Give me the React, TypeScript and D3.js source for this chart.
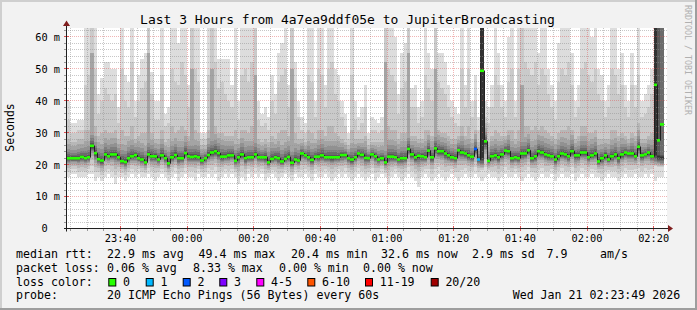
import React from "react";
import * as d3 from "d3";

// ---------- data ----------
const titleText = "Last 3 Hours from 4a7ea9ddf05e to JupiterBroadcasting";
const yAxisTitle = "Seconds";
const watermark = "RRDTOOL / TOBI OETIKER";

// median RTT per 60 s step (ms), 23:24 .. 02:23
const medianMs = [
  22.0, 22.0, 22.0, 22.0, 22.4, 22.0, 22.3, 25.9, 23.6, 21.7, 21.3, 23.2, 22.6, 23.2, 23.2, 22.3, 21.1, 20.8, 22.0, 22.6,
  23.0, 22.0, 21.6, 20.7, 23.2, 22.6, 22.6, 21.6, 22.9, 22.0, 20.4, 22.3, 23.0, 22.0, 22.0, 23.6, 22.6, 22.4, 22.6, 22.3,
  21.3, 22.0, 23.0, 23.8, 24.2, 23.6, 22.5, 22.5, 22.9, 22.9, 21.2, 22.3, 23.2, 22.0, 22.3, 22.3, 23.2, 22.3, 22.3, 22.3,
  20.7, 21.8, 22.3, 22.0, 21.0, 21.8, 22.4, 20.6, 21.6, 21.3, 23.5, 22.9, 22.3, 21.5, 22.5, 22.5, 22.9, 22.3, 22.3, 22.3,
  22.3, 22.3, 23.0, 23.0, 22.0, 21.6, 22.3, 23.5, 23.1, 22.1, 22.0, 23.2, 22.6, 21.6, 22.0, 20.7, 22.5, 22.5, 22.3, 21.6,
  22.0, 22.0, 24.9, 23.2, 22.3, 22.8, 22.6, 22.3, 24.4, 22.3, 25.1, 24.2, 24.2, 23.5, 22.9, 22.3, 22.0, 24.5, 23.8, 23.5,
  22.9, 22.5, 24.9, 21.6, 49.4, 27.3, 21.2, 22.6, 22.9, 22.3, 23.2, 24.4, 24.2, 22.0, 22.3, 22.0, 23.5, 23.5, 24.5, 22.0,
  22.6, 24.2, 23.8, 23.2, 22.9, 22.6, 21.6, 22.6, 23.5, 23.2, 22.6, 24.2, 22.9, 22.9, 23.8, 23.8, 22.3, 22.9, 23.5, 21.0,
  22.0, 22.9, 21.6, 22.6, 23.2, 22.0, 23.2, 23.8, 23.5, 23.5, 22.6, 25.6, 22.9, 23.2, 23.8, 22.6, 45.0, 27.6, 32.6,
];

// highest ping per step (ms)
const smokeHigh = [
  40, 33, 33, 34, 34, 63, 63, 63, 63, 42, 47, 52, 52, 50, 50, 38, 63, 48, 46, 63,
  40, 48, 53, 55, 63, 49, 40, 40, 63, 36, 38, 63, 63, 58, 63, 63, 45, 63, 63, 63,
  30, 30, 63, 63, 63, 53, 53, 53, 53, 45, 63, 40, 63, 63, 63, 63, 63, 40, 36, 38,
  35, 48, 42, 55, 58, 63, 45, 63, 52, 40, 35, 33, 63, 63, 40, 63, 63, 45, 63, 63,
  50, 48, 40, 36, 30, 63, 40, 35, 38, 45, 30, 35, 34, 33, 35, 63, 63, 63, 60, 42,
  55, 58, 63, 44, 45, 38, 40, 63, 55, 50, 63, 55, 55, 52, 45, 40, 38, 36, 63, 45,
  63, 40, 48, 35, 63, 40, 38, 45, 63, 55, 45, 40, 60, 63, 40, 63, 63, 63, 63, 63,
  63, 55, 63, 63, 50, 45, 40, 58, 63, 63, 63, 55, 40, 45, 63, 63, 63, 60, 63, 50,
  48, 40, 45, 63, 63, 50, 55, 45, 40, 55, 45, 63, 40, 42, 45, 50, 63, 63, 63,
];

// 19th of 20 pings per step (ms)
const smokeUpper2 = [
  34, 30, 30, 31, 31, 45, 48, 63, 50, 36, 40, 44, 42, 40, 42, 33, 50, 40, 38, 52,
  35, 40, 44, 46, 63, 42, 34, 34, 48, 32, 33, 50, 46, 45, 52, 48, 38, 63, 50, 46,
  28, 28, 48, 63, 52, 44, 46, 42, 40, 38, 50, 34, 48, 50, 46, 52, 63, 34, 32, 33,
  31, 40, 36, 46, 48, 50, 38, 63, 44, 35, 31, 30, 48, 46, 35, 50, 48, 38, 50, 52,
  42, 40, 35, 32, 28, 48, 34, 31, 33, 38, 28, 31, 31, 30, 31, 63, 50, 48, 46, 36,
  44, 46, 63, 38, 38, 33, 35, 48, 44, 40, 63, 46, 44, 42, 38, 35, 33, 32, 50, 38,
  50, 35, 40, 31, 63, 35, 33, 38, 48, 45, 38, 35, 46, 50, 35, 50, 63, 52, 50, 48,
  52, 45, 50, 48, 42, 38, 34, 46, 50, 48, 52, 45, 35, 38, 50, 52, 48, 46, 50, 42,
  40, 35, 38, 50, 48, 42, 45, 38, 35, 45, 38, 48, 35, 36, 38, 42, 63, 63, 63,
];

// 18th of 20 pings per step (ms)
const smokeUpper3 = [
  28, 27, 27, 28, 28, 31, 31, 55, 32, 29, 30, 31, 30, 30, 31, 28, 31, 29, 29, 32,
  28, 29, 30, 30, 55, 30, 28, 28, 31, 27, 28, 32, 30, 31, 32, 31, 29, 50, 31, 30,
  26, 26, 31, 50, 32, 30, 30, 29, 29, 29, 31, 28, 31, 31, 30, 32, 48, 28, 27, 28,
  27, 29, 28, 30, 31, 31, 29, 50, 30, 28, 28, 27, 31, 30, 28, 31, 31, 29, 32, 32,
  30, 29, 28, 27, 26, 31, 28, 28, 28, 29, 26, 27, 27, 27, 27, 52, 32, 31, 31, 28,
  30, 30, 55, 29, 29, 28, 28, 31, 31, 29, 50, 31, 30, 30, 29, 28, 28, 29, 32, 29,
  32, 28, 31, 27, 63, 33, 27, 29, 31, 30, 29, 29, 31, 31, 28, 31, 45, 32, 32, 31,
  32, 31, 32, 31, 30, 29, 28, 30, 31, 31, 32, 31, 28, 29, 32, 32, 30, 30, 31, 28,
  28, 28, 28, 31, 31, 29, 30, 29, 28, 30, 29, 33, 28, 28, 29, 30, 63, 63, 63,
];

// lowest ping per step (ms)
const smokeLow = [
  16, 17, 17, 16, 16, 16, 17, 17, 15, 16, 15, 16, 17, 16, 14, 16, 16, 15, 16, 17,
  16, 17, 16, 16, 17, 16, 15, 16, 17, 16, 15, 16, 17, 15, 16, 17, 16, 16, 15, 17,
  16, 16, 17, 16, 17, 15, 16, 17, 16, 17, 16, 14, 16, 15, 17, 16, 17, 16, 17, 15,
  16, 17, 16, 15, 16, 17, 16, 15, 17, 16, 16, 17, 16, 15, 17, 16, 16, 17, 16, 15,
  16, 17, 16, 17, 16, 15, 16, 17, 16, 15, 16, 17, 15, 16, 17, 16, 14, 16, 17, 16,
  15, 16, 17, 16, 15, 13, 16, 17, 16, 15, 16, 17, 16, 15, 16, 17, 16, 15, 16, 17,
  16, 16, 17, 16, 15, 16, 17, 16, 16, 15, 16, 17, 16, 16, 17, 16, 15, 16, 17, 16,
  15, 16, 17, 16, 16, 17, 15, 16, 17, 16, 16, 17, 15, 16, 17, 16, 16, 17, 16, 16,
  15, 16, 17, 16, 16, 15, 16, 17, 16, 16, 17, 16, 16, 17, 16, 17, 15, 16, 16,
];

// steps whose pings split into a low cluster and timeouts at the top:
// [step, low cluster value (ms), number of pings in the low cluster]
const splitSteps: [number, number, number][] = [[124, 22, 10], [176, 23, 10], [177, 23, 12], [178, 23, 13]];

// steps with packet loss: [step index, loss class]
const lossEvents: [number, number][] = [[122, 2], [123, 1]];

const lossLabels = ["0", "1", "2", "3", "4-5", "6-10", "11-19", "20/20"];
const lossColors = ["#26ff00", "#00b8ff", "#0059ff", "#7e00ff", "#ff00ff", "#ff5500", "#ff0000", "#a00000"];
const smokeShades = ["#dddddd", "#cacaca", "#b7b7b7", "#a4a4a4", "#919191", "#7e7e7e", "#6b6b6b", "#585858", "#454545", "#323232"];

const xTickLabels = ["23:40", "00:00", "00:20", "00:40", "01:00", "01:20", "01:40", "02:00", "02:20"];
const yTickValues = [0, 10, 20, 30, 40, 50, 60];
const yTickLabels = ["0", "10 m", "20 m", "30 m", "40 m", "50 m", "60 m"];

const rttRow = ["median rtt:", "22.9 ms avg", "49.4 ms max", "20.4 ms min", "32.6 ms now", "2.9 ms sd", "7.9", "am/s"];
const lossRow = ["packet loss:", "0.06 % avg", "8.33 % max", "0.00 % min", "0.00 % now"];
const lossColorLabel = "loss color:";
const probeRow = ["probe:", "20 ICMP Echo Pings (56 Bytes) every 60s", "Wed Jan 21 02:23:49 2026"];

// ---------- layout ----------
const W = 697;
const H = 310;
const PL = 67, PR = 667, PT = 28, PB = 228.5;
const Y_MAX = 62.8;
const MONO = "'DejaVu Sans Mono', monospace";
const LEG_FS = 11.6;
const t0 = new Date(2026, 0, 20, 23, 24);
const t1 = new Date(2026, 0, 21, 2, 24);

const rttX = [16, 107, 198.5, 291, 381, 472, 546.5, 600];
const lossX = [16, 107, 193, 279, 363];
const lossBoxX = [108.3, 145.7, 182.7, 219.3, 256.3, 307.3, 365, 430.7];
const probeX = [16, 107, 512.7];

const splitMap = new Map(splitSteps.map((s) => [s[0], s] as const));

// order the 20 ping values of a step from its stored quantiles
function stepPings(i: number): number[] {
  const lo = smokeLow[i], med = medianMs[i], u3 = smokeUpper3[i], u2 = smokeUpper2[i], hi = smokeHigh[i];
  const split = splitMap.get(i);
  if (split) {
    const [, cluster, k] = split;
    const p: number[] = [];
    for (let j = 0; j < 20; j++) {
      if (j === 0) p.push(lo);
      else if (j < k) p.push(cluster - 4 + (4 * j) / (k - 1));
      else p.push(hi);
    }
    return p;
  }
  const below = [0, 0.3, 0.5, 0.65, 0.75, 0.8, 0.85, 0.9, 0.94, 0.98].map((f) => lo + f * (med - lo));
  const c = Math.min(u3, med + 7);
  const above = [0.02, 0.05, 0.12, 0.22, 0.34, 0.5].map((f) => med + f * (c - med));
  const p17 = u3 >= 45 ? u3 : med + 0.75 * (c - med);
  const p = [...below, ...above, p17, u3, u2, hi];
  return p.sort((a, b) => a - b);
}

export default function App() {
  const x = d3.scaleTime().domain([t0, t1]).range([PL, PR]);
  const y = d3.scaleLinear().domain([0, Y_MAX]).range([PB, PT]).clamp(true);
  const n = medianMs.length;
  const stepT = (i: number) => d3.timeMinute.offset(t0, i);

  const smokeRects: JSX.Element[] = [];
  const medRects: JSX.Element[] = [];
  const lossMap = new Map(lossEvents);
  for (let i = 0; i < n; i++) {
    const xa = Math.round(x(stepT(i)));
    const xb = Math.round(x(stepT(i + 1)));
    const p = stepPings(i);
    for (let k = 0; k < 10; k++) {
      const ya = Math.round(y(p[19 - k]));
      const yb = Math.round(y(p[k]));
      if (yb - ya <= 0) continue;
      smokeRects.push(
        <rect key={`s${i}-${k}`} x={xa} y={ya} width={xb - xa} height={yb - ya} fill={smokeShades[k]} />
      );
    }
    const ym = y(medianMs[i]);
    medRects.push(
      <rect key={`m${i}`} x={xa} y={ym - 1.3} width={xb - xa} height={2.6} fill={lossColors[lossMap.get(i) ?? 0]} />
    );
  }

  const medPts: [Date, number][] = medianMs.map((v, i) => [stepT(i), v]);
  medPts.push([stepT(n), medianMs[n - 1]]);
  const medLine = d3
    .line<[Date, number]>()
    .x((d) => Math.round(x(d[0])) + 0.5)
    .y((d) => y(d[1]))
    .curve(d3.curveStepAfter)(medPts) as string;

  const px = (v: number) => Math.round(v - 0.5); // pixel column / row index
  const majorT = x.ticks(d3.timeMinute.every(20) as any);
  const minorT = x.ticks(d3.timeMinute.every(5) as any).filter((t) => t.getMinutes() % 20 !== 0);
  const minorY = d3.range(2, Y_MAX, 2).filter((v) => v % 10 !== 0);
  const majorY = yTickValues.filter((v) => v > 0);

  const gridMinor = "rgba(143,143,143,0.5)";
  const gridMajor = "rgba(222,79,79,0.42)";
  const cwAxis = 10.3 * 0.602;
  const gTop = PT;
  const gBot = Math.floor(PB);

  return (
    <svg width={W} height={H} viewBox={`0 0 ${W} ${H}`} style={{ display: "block", position: "absolute", left: 0, top: 0 }}>
      <style>{`body{margin:0}`}</style>
      <defs>
        <pattern id="hMinor" width={2} height={1} patternUnits="userSpaceOnUse">
          <rect width={1} height={1} fill={gridMinor} />
        </pattern>
        <pattern id="vMinor" width={1} height={2} patternUnits="userSpaceOnUse">
          <rect width={1} height={1} fill={gridMinor} />
        </pattern>
        <pattern id="hMajor" width={2} height={1} patternUnits="userSpaceOnUse">
          <rect width={1} height={1} fill={gridMajor} />
        </pattern>
        <pattern id="vMajor" width={1} height={2} patternUnits="userSpaceOnUse">
          <rect width={1} height={1} fill={gridMajor} />
        </pattern>
      </defs>
      <rect x={0} y={0} width={W} height={H} fill="#f2f2f2" />
      {/* 3D frame */}
      <rect x={0} y={0} width={W} height={2} fill="#cfcfcf" />
      <rect x={0} y={0} width={2} height={H} fill="#cfcfcf" />
      <rect x={0} y={H - 2} width={W} height={2} fill="#9e9e9e" />
      <rect x={W - 2} y={0} width={2} height={H} fill="#9e9e9e" />

      {/* canvas */}
      <rect x={PL} y={PT} width={PR - PL} height={gBot - PT} fill="#ffffff" />

      <g shapeRendering="crispEdges">{smokeRects}</g>

      {/* grid (1 on / 1 off dots) */}
      <g shapeRendering="crispEdges">
        {minorY.map((v) => (
          <rect key={`gy${v}`} x={PL} y={px(y(v))} width={PR - PL} height={1} fill="url(#hMinor)" />
        ))}
        {minorT.map((t) => (
          <rect key={`gx${+t}`} x={px(x(t))} y={gTop} width={1} height={gBot - gTop} fill="url(#vMinor)" />
        ))}
        {majorY.map((v) => (
          <rect key={`My${v}`} x={PL} y={px(y(v))} width={PR - PL} height={1} fill="url(#hMajor)" />
        ))}
        {majorT.map((t) => (
          <rect key={`Mx${+t}`} x={px(x(t))} y={gTop} width={1} height={gBot - gTop} fill="url(#vMajor)" />
        ))}
      </g>

      {/* ticks */}
      <g shapeRendering="crispEdges">
        {minorY.map((v) => (
          <rect key={`ty${v}`} x={PL - 3} y={px(y(v))} width={2} height={1} fill="#9a9a9a" />
        ))}
        {majorY.map((v) => (
          <rect key={`tY${v}`} x={PL - 3} y={px(y(v))} width={5} height={1} fill="#de4f4f" />
        ))}
        {minorT.map((t) => (
          <rect key={`tx${+t}`} x={px(x(t))} y={gBot + 1} width={1} height={2} fill="#9a9a9a" />
        ))}
        {majorT.map((t) => (
          <rect key={`tX${+t}`} x={px(x(t))} y={gBot - 2} width={1} height={5} fill="#de4f4f" />
        ))}
      </g>

      {/* median */}
      <path d={medLine} fill="none" stroke="#202020" strokeWidth={1} />
      <g>{medRects}</g>

      {/* axes */}
      <line x1={PL - 3} x2={PR + 2} y1={PB} y2={PB} stroke="#1f1f1f" strokeWidth={1} />
      <line x1={PL - 0.5} x2={PL - 0.5} y1={PB + 3} y2={24} stroke="#1f1f1f" strokeWidth={1} />
      <path d={`M${PR + 1},${PB - 3.5} L${PR + 6},${PB} L${PR + 1},${PB + 3.5} Z`} fill="#801f1f" />
      <path d={`M${PL - 4},${26} L${PL - 0.5},${20.5} L${PL + 3},${26} Z`} fill="#801f1f" />

      {/* axis labels */}
      <g fontFamily={MONO} fontSize={10.3} fill="#000">
        {yTickValues.map((v, i) => (
          <text key={`yl${v}`} x={yTickLabels[i].endsWith(" m") ? 60 : 60 - 2 * cwAxis} y={y(v) + 3.9} textAnchor="end">
            {yTickLabels[i]}
          </text>
        ))}
        {majorT.map((t, i) => (
          <text key={`xl${+t}`} x={x(t)} y={241.5} textAnchor="middle">
            {xTickLabels[i]}
          </text>
        ))}
      </g>

      {/* title and side texts */}
      <text x={347.5} y={23.5} textAnchor="middle" fontFamily={MONO} fontSize={13} fill="#000">
        {titleText}
      </text>
      <text transform="translate(14,127.5) rotate(-90)" textAnchor="middle" fontFamily={MONO} fontSize={11.5} fill="#000">
        {yAxisTitle}
      </text>
      <text transform="translate(684.5,5) rotate(90)" fontFamily={MONO} fontSize={8.3} fill="#b0b0b0">
        {watermark}
      </text>

      {/* legend */}
      <g fontFamily={MONO} fontSize={LEG_FS} fill="#000">
        {rttRow.map((s, i) => (
          <text key={`r${i}`} x={rttX[i]} y={258.3}>{s}</text>
        ))}
        {lossRow.map((s, i) => (
          <text key={`l${i}`} x={lossX[i]} y={271.8}>{s}</text>
        ))}
        <text x={16} y={285.5}>{lossColorLabel}</text>
        {lossLabels.map((s, i) => (
          <g key={`lc${i}`}>
            <rect x={lossBoxX[i] + 0.5} y={278.5} width={7} height={7.5} fill={lossColors[i]} stroke="#000" strokeWidth={1} />
            <text x={lossBoxX[i] + 14.7} y={285.5}>{s}</text>
          </g>
        ))}
        {probeRow.map((s, i) => (
          <text key={`p${i}`} x={probeX[i]} y={298.8}>{s}</text>
        ))}
      </g>
    </svg>
  );
}
